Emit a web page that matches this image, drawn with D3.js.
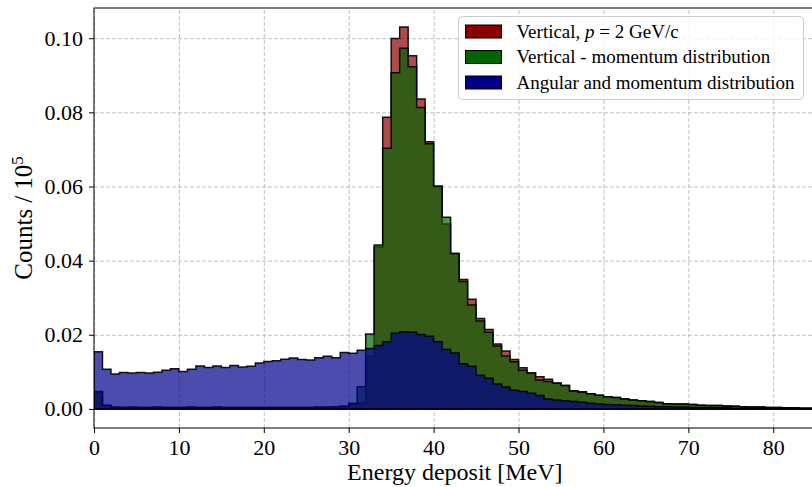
<!DOCTYPE html>
<html>
<head>
<meta charset="utf-8">
<script src="https://cdn.jsdelivr.net/npm/d3@7"></script>
<style>
  body { margin: 0; background: #fff; }
  svg { display: block; font-family: "Liberation Serif", "DejaVu Serif", serif; }
  .axis .tick text { font-family: "Liberation Serif", "DejaVu Serif", serif; font-size: 22px; fill: #000; }
  .axis .tick line { stroke: #000; stroke-width: 1; }
  .grid .tick line { stroke: #b0b0b0; stroke-width: 0.8; stroke-dasharray: 4 2; }
  .grid .domain { display: none; }
</style>
</head>
<body>
<div id="chart"></div>
<script>
// histogram bins, width 1 MeV, starting at 0
const binWidth = 1;

const verticalFixed = [
  0.0045, 0.0009, 0.0004, 0.0004, 0.0004, 0.0004, 0.0004, 0.0004, 0.0004, 0.0004,
  0.0004, 0.0004, 0.0004, 0.0004, 0.0004, 0.0004, 0.0004, 0.0004, 0.0004, 0.0004,
  0.0004, 0.0004, 0.0004, 0.0004, 0.0004, 0.0004, 0.0004, 0.0004, 0.0005, 0.0006,
  0.0012, 0.0016, 0.0142, 0.0437, 0.0787, 0.0999, 0.1030, 0.0953, 0.0836, 0.0721,
  0.0600, 0.0499, 0.0419, 0.0349, 0.0296, 0.0244, 0.0214, 0.0175, 0.0156, 0.0133,
  0.0111, 0.0097, 0.0087, 0.0080, 0.0070, 0.0063, 0.0049, 0.0046, 0.0041, 0.0037,
  0.0033, 0.0031, 0.0027, 0.0024, 0.0022, 0.0020, 0.0017, 0.0014, 0.0013, 0.0013,
  0.0012, 0.0010, 0.0009, 0.0009, 0.0008, 0.0007, 0.0006, 0.0005, 0.0005, 0.0004,
  0.0004, 0.0003, 0.0003, 0.0002, 0.0002
];

const verticalMomentum = [
  0.0047, 0.0010, 0.0005, 0.0004, 0.0005, 0.0004, 0.0004, 0.0005, 0.0004, 0.0004,
  0.0004, 0.0005, 0.0004, 0.0004, 0.0005, 0.0004, 0.0004, 0.0004, 0.0004, 0.0004,
  0.0004, 0.0004, 0.0004, 0.0004, 0.0004, 0.0004, 0.0005, 0.0005, 0.0006, 0.0008,
  0.0015, 0.0060, 0.0202, 0.0442, 0.0703, 0.0907, 0.0973, 0.0923, 0.0813, 0.0715,
  0.0601, 0.0517, 0.0419, 0.0344, 0.0280, 0.0237, 0.0207, 0.0170, 0.0143, 0.0127,
  0.0104, 0.0097, 0.0078, 0.0074, 0.0069, 0.0063, 0.0048, 0.0045, 0.0041, 0.0037,
  0.0033, 0.0031, 0.0027, 0.0024, 0.0022, 0.0020, 0.0017, 0.0014, 0.0013, 0.0013,
  0.0012, 0.0010, 0.0009, 0.0009, 0.0008, 0.0007, 0.0006, 0.0005, 0.0005, 0.0004,
  0.0004, 0.0003, 0.0003, 0.0002, 0.0002
];

const angularMomentum = [
  0.0154, 0.0107, 0.0094, 0.0098, 0.0097, 0.0098, 0.0097, 0.0099, 0.0104, 0.0108,
  0.0101, 0.0107, 0.0116, 0.0112, 0.0116, 0.0112, 0.0117, 0.0113, 0.0115, 0.0124,
  0.0128, 0.0130, 0.0134, 0.0137, 0.0133, 0.0132, 0.0138, 0.0142, 0.0138, 0.0152,
  0.0150, 0.0158, 0.0163, 0.0171, 0.0181, 0.0204, 0.0208, 0.0207, 0.0201, 0.0196,
  0.0181, 0.0160, 0.0151, 0.0122, 0.0115, 0.0091, 0.0083, 0.0067, 0.0059, 0.0050,
  0.0047, 0.0042, 0.0036, 0.0027, 0.0024, 0.0022, 0.0020, 0.0018, 0.0015, 0.0013,
  0.0012, 0.0011, 0.0010, 0.0009, 0.0008, 0.0007, 0.0006, 0.0006, 0.0005, 0.0005,
  0.0004, 0.0004, 0.0003, 0.0003, 0.0003, 0.0002, 0.0002, 0.0002, 0.0002, 0.0001,
  0.0001, 0.0001, 0.0001, 0.0001, 0.0001
];

const seriesLabels = ["Vertical, p = 2 GeV/c", "Vertical - momentum distribution", "Angular and momentum distribution"];
const seriesColors = ["#8b0000", "#006400", "#00008b"];
const xTicks = [0, 10, 20, 30, 40, 50, 60, 70, 80];
const yTicks = [0, 0.02, 0.04, 0.06, 0.08, 0.10];
const xMax = 85;

const width = 812;
const height = 487;
const margin = { top: 8, left: 94, bottom: 59 };
const innerWidth = 721.7; // runs past the right border, cropped like the original
const innerHeight = height - margin.top - margin.bottom;

const svg = d3.select("#chart")
  .append("svg")
  .attr("width", width)
  .attr("height", height);

const allSeries = [verticalFixed, verticalMomentum, angularMomentum];
const yMaxData = d3.max(allSeries, s => d3.max(s));
const pad = yMaxData * 0.05; // matplotlib style headroom

const xScale = d3.scaleLinear().domain([0, xMax]).range([0, innerWidth]);
const yScale = d3.scaleLinear().domain([-pad, yMaxData + pad]).range([innerHeight, 0]);

const inner = svg.append("g")
  .attr("transform", `translate(${margin.left}, ${margin.top})`);

svg.append("defs").append("clipPath")
  .attr("id", "plot-clip")
  .append("rect")
  .attr("width", innerWidth)
  .attr("height", innerHeight);

// grid first
inner.append("g")
  .attr("class", "grid")
  .call(d3.axisLeft(yScale).tickValues(yTicks).tickSize(-innerWidth).tickFormat(""))
  .call(g => g.selectAll("text").remove());

inner.append("g")
  .attr("class", "grid")
  .attr("transform", `translate(0, ${innerHeight})`)
  .call(d3.axisBottom(xScale).tickValues(xTicks).tickSize(-innerHeight).tickFormat(""))
  .call(g => g.selectAll("text").remove());

// step histograms, filled
const areaGenerator = d3.area()
  .x(d => xScale(d.x))
  .y0(yScale(0))
  .y1(d => yScale(d.y))
  .curve(d3.curveStepAfter);

const histGroup = inner.append("g").attr("clip-path", "url(#plot-clip)");

allSeries.forEach((values, i) => {
  const pts = values.map((v, k) => ({ x: k * binWidth, y: v }));
  pts.push({ x: values.length * binWidth, y: values[values.length - 1] });
  histGroup.append("path")
    .attr("d", areaGenerator(pts))
    .attr("fill", seriesColors[i])
    .attr("fill-opacity", 0.7)
    .attr("stroke", "#000")
    .attr("stroke-opacity", 0.9)
    .attr("stroke-width", 1.5)
    .attr("stroke-linejoin", "miter");
});

// axes
const bottomAxis = d3.axisBottom(xScale).tickValues(xTicks).tickSize(5).tickPadding(6).tickFormat(d3.format("d"));
const leftAxis = d3.axisLeft(yScale).tickValues(yTicks).tickSize(5).tickPadding(6).tickFormat(d3.format(".2f"));

inner.append("g")
  .attr("class", "axis")
  .attr("transform", `translate(0, ${innerHeight})`)
  .call(bottomAxis)
  .call(g => g.select(".domain").remove());

inner.append("g")
  .attr("class", "axis")
  .call(leftAxis)
  .call(g => g.select(".domain").remove());

// spines
inner.append("rect")
  .attr("width", innerWidth)
  .attr("height", innerHeight)
  .attr("fill", "none")
  .attr("stroke", "#000")
  .attr("stroke-width", 1);

// axis labels
svg.append("text")
  .attr("x", margin.left + innerWidth / 2)
  .attr("y", 480)
  .attr("text-anchor", "middle")
  .attr("font-size", 24)
  .text("Energy deposit [MeV]");

const yLabel = svg.append("text")
  .attr("transform", `translate(32, ${margin.top + innerHeight / 2}) rotate(-90)`)
  .attr("text-anchor", "middle")
  .attr("font-size", 25);
yLabel.append("tspan").text("Counts");
yLabel.append("tspan").attr("dx", 6).text("/");
yLabel.append("tspan").attr("dx", 6).text("10");
yLabel.append("tspan").attr("dy", -9).attr("font-size", 17).text("5");

// legend
const legend = svg.append("g").attr("transform", "translate(458.5, 16.5)");

legend.append("rect")
  .attr("width", 345)
  .attr("height", 83)
  .attr("rx", 4)
  .attr("fill", "#fff")
  .attr("fill-opacity", 0.8)
  .attr("stroke", "#cccccc")
  .attr("stroke-width", 1);

seriesLabels.forEach((label, i) => {
  const row = legend.append("g").attr("transform", `translate(0, ${8.5 + i * 25.5})`);
  row.append("rect")
    .attr("x", 7)
    .attr("width", 36)
    .attr("height", 13)
    .attr("fill", seriesColors[i])
    .attr("stroke", "#000")
    .attr("stroke-width", 1);
  const t = row.append("text")
    .attr("x", 58)
    .attr("y", 12.5)
    .attr("font-size", 19);
  if (i === 0) {
    t.append("tspan").text("Vertical, ");
    t.append("tspan").attr("font-style", "italic").text("p");
    t.append("tspan").text(" = 2 GeV/c");
  } else {
    t.text(label);
  }
});
</script>
</body>
</html>
